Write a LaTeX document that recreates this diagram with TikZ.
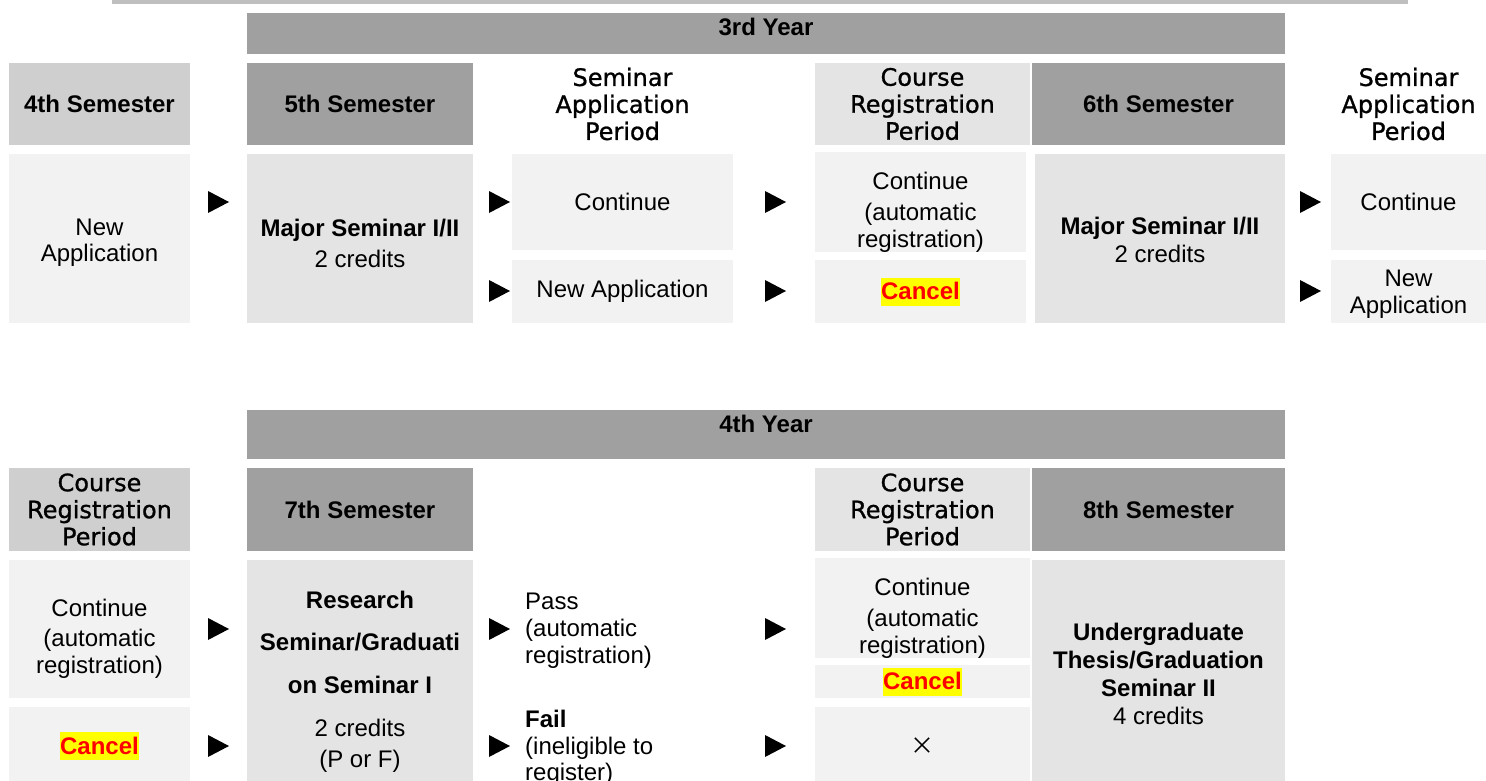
\documentclass[tikz,border=0pt]{standalone}
\usepackage{fontspec}
\setmainfont{Liberation Sans}
\newfontfamily\hdfont[FakeBold=1]{DejaVu Sans}
\newfontfamily\jpfont{Noto Sans CJK JP}
\definecolor{topgray}{RGB}{191,191,191}
\definecolor{semgray}{RGB}{160,160,160}
\definecolor{midgray}{RGB}{207,207,207}
\definecolor{boxgray}{RGB}{228,228,228}
\definecolor{palegray}{RGB}{242,242,242}
\definecolor{hlyellow}{RGB}{255,255,0}
\tikzstyle{box} = [rectangle, inner sep=0pt, align=center, font=\fontsize{24}{28}\selectfont]
\tikzstyle{sem} = [box, fill=semgray, font=\fontsize{24}{28}\selectfont\bfseries]
\tikzstyle{period} = [box, font=\hdfont\fontsize{24}{27}\selectfont]
\newcommand{\cancelmark}{{\setlength{\fboxsep}{0pt}\colorbox{hlyellow}{\rule[-6pt]{0pt}{28pt}\textcolor{red}{\bfseries Cancel}}}}
\newcommand{\pushdown}[1]{\rule{0pt}{#1}}

\begin{document}
\begin{tikzpicture}[x=1pt,y=-1pt]
\clip (0,0) rectangle (1486,781);
\fill[topgray] (112,0) rectangle (1408,4);

\node[sem, minimum width=1038pt, minimum height=41pt, text height=17pt, text depth=13pt] (yr3) at (766,33.5) {3rd Year};
\node[sem, fill=midgray, minimum width=181pt, minimum height=82pt] (s4) at (99.5,104) {4th Semester};
\node[sem, minimum width=226pt, minimum height=82pt] (s5) at (360,104) {5th Semester};
\node[period, minimum width=221pt, minimum height=82pt] (sap1) at (622.5,104) {Seminar\\Application\\Period};
\node[period, fill=boxgray, minimum width=215pt, minimum height=82pt] (crp1) at (922.5,104) {Course\\Registration\\Period};
\node[sem, minimum width=253pt, minimum height=82pt] (s6) at (1158.5,104) {6th Semester};
\node[period, minimum width=155pt, minimum height=82pt] (sap2) at (1408.5,104) {Seminar\\Application\\Period};

\node[box, fill=palegray, minimum width=181pt, minimum height=169pt] (na1) at (99.5,238.5) {\pushdown{24pt}New\\[-2pt]Application};
\node[box, fill=boxgray, minimum width=226pt, minimum height=169pt] (ms5) at (360,238.5) {\pushdown{28pt}\textbf{Major Seminar I/II}\\[3pt]2 credits};
\node[box, fill=palegray, minimum width=221pt, minimum height=96pt] (co1) at (622.5,202) {Continue};
\node[box, fill=palegray, minimum width=221pt, minimum height=63pt] (nap1) at (622.5,291.5) {New Application};
\node[box, fill=palegray, minimum width=211pt, minimum height=96pt] (cr1) at (920.5,202) {\pushdown{37pt}Continue\\[3pt](automatic\\[-1pt]registration)};
\node[box, fill=palegray, minimum width=211pt, minimum height=63pt] (can1) at (920.5,291.5) {\cancelmark};
\node[box, fill=boxgray, minimum width=250pt, minimum height=169pt] (ms6) at (1160,238.5) {\pushdown{21pt}\textbf{Major Seminar I/II}\\2 credits};
\node[box, fill=palegray, minimum width=155pt, minimum height=96pt] (co2) at (1408.5,202) {Continue};
\node[box, fill=palegray, minimum width=155pt, minimum height=63pt] (nap2) at (1408.5,291.5) {\pushdown{22pt}New\\[-1pt]Application};

\node[sem, minimum width=1038pt, minimum height=49pt, text height=17pt, text depth=22pt] (yr4) at (766,434.5) {4th Year};
\node[period, fill=midgray, minimum width=181pt, minimum height=83pt] (crp2) at (99.5,509.5) {Course\\Registration\\Period};
\node[sem, minimum width=226pt, minimum height=83pt] (s7) at (360,509.5) {7th Semester};
\node[period, fill=boxgray, minimum width=215pt, minimum height=83pt] (crp3) at (922.5,509.5) {Course\\Registration\\Period};
\node[sem, minimum width=253pt, minimum height=83pt] (s8) at (1158.5,509.5) {8th Semester};

\node[box, fill=palegray, minimum width=181pt, minimum height=138pt] (cr2) at (99.5,629) {\pushdown{37pt}Continue\\[2pt](automatic\\[-1pt]registration)};
\node[box, fill=palegray, minimum width=181pt, minimum height=78pt] (can2) at (99.5,746) {\cancelmark};
\node[box, fill=boxgray, minimum width=226pt, minimum height=240pt] (rs) at (360,680) {\pushdown{21pt}\textbf{Research}\\[14pt]\textbf{Seminar/Graduati}\\[15pt]\textbf{on Seminar I}\\[15pt]2 credits\\[3pt](P or F)};
\node[box, anchor=west, align=left] (pass) at (525,631) {Pass\\[-1pt](automatic\\[-1pt]registration)};
\node[box, anchor=west, align=left] (fail) at (525,748) {\textbf{Fail}\\[-1pt](ineligible to\\[-2pt]register)};
\node[box, fill=palegray, minimum width=215pt, minimum height=96pt] (cr3) at (922.5,608) {\pushdown{37pt}Continue\\[3pt](automatic\\[-1pt]registration)};
\node[box, fill=palegray, minimum width=215pt, minimum height=33pt] (can3) at (922.5,681.5) {\cancelmark};
\node[box, fill=palegray, minimum width=215pt, minimum height=78pt] (x3) at (922.5,746) {\jpfont ×};
\node[box, fill=boxgray, minimum width=253pt, minimum height=225pt] (ut) at (1158.5,672.5) {\pushdown{20pt}\textbf{Undergraduate}\\\textbf{Thesis/Graduation}\\\textbf{Seminar II}\\4 credits};

\foreach \x/\y in {208/202, 489/202, 489/291, 765/202, 765/291, 1300/202, 1300/291, 208/629, 208/746, 489/629, 489/746, 765/629, 765/746}
{
\fill[black] (\x,\y-11) -- (\x+21,\y) -- (\x,\y+11) -- cycle;
}
\end{tikzpicture}
\end{document}
